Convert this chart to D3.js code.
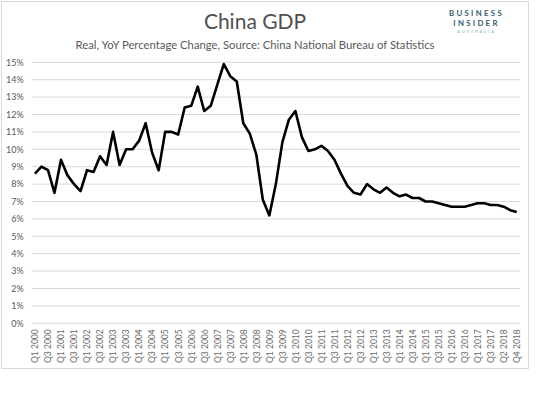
<!DOCTYPE html>
<html>
<head>
<meta charset="utf-8">
<script src="https://cdn.jsdelivr.net/npm/d3@7"></script>
<style>
  body { margin: 0; background: #fff; }
  text { font-family: Lato, "Open Sans", sans-serif; }
</style>
</head>
<body>
<div id="chart"></div>
<script>
// quarters shown on the category axis (Q4 2017 is absent from the source series)
var quarters = [
  "Q1 2000","Q2 2000","Q3 2000","Q4 2000","Q1 2001","Q2 2001","Q3 2001","Q4 2001",
  "Q1 2002","Q2 2002","Q3 2002","Q4 2002","Q1 2003","Q2 2003","Q3 2003","Q4 2003",
  "Q1 2004","Q2 2004","Q3 2004","Q4 2004","Q1 2005","Q2 2005","Q3 2005","Q4 2005",
  "Q1 2006","Q2 2006","Q3 2006","Q4 2006","Q1 2007","Q2 2007","Q3 2007","Q4 2007",
  "Q1 2008","Q2 2008","Q3 2008","Q4 2008","Q1 2009","Q2 2009","Q3 2009","Q4 2009",
  "Q1 2010","Q2 2010","Q3 2010","Q4 2010","Q1 2011","Q2 2011","Q3 2011","Q4 2011",
  "Q1 2012","Q2 2012","Q3 2012","Q4 2012","Q1 2013","Q2 2013","Q3 2013","Q4 2013",
  "Q1 2014","Q2 2014","Q3 2014","Q4 2014","Q1 2015","Q2 2015","Q3 2015","Q4 2015",
  "Q1 2016","Q2 2016","Q3 2016","Q4 2016","Q1 2017","Q2 2017","Q3 2017",
  "Q1 2018","Q2 2018","Q3 2018","Q4 2018"
];

// real GDP, YoY % change
var gdp = [
  8.6, 9.0, 8.8, 7.5, 9.4, 8.5, 8.0, 7.6,
  8.8, 8.7, 9.6, 9.1, 11.0, 9.1, 10.0, 10.0,
  10.5, 11.5, 9.8, 8.8, 11.0, 11.0, 10.85, 12.4,
  12.5, 13.6, 12.2, 12.5, 13.7, 14.9, 14.2, 13.9,
  11.5, 10.9, 9.7, 7.1, 6.2, 8.0, 10.4, 11.7,
  12.2, 10.7, 9.9, 10.0, 10.2, 9.9, 9.4, 8.6,
  7.9, 7.5, 7.4, 8.0, 7.7, 7.5, 7.8, 7.5,
  7.3, 7.4, 7.2, 7.2, 7.0, 7.0, 6.9, 6.8,
  6.7, 6.7, 6.7, 6.8, 6.9, 6.9, 6.8,
  6.8, 6.7, 6.5, 6.4
];

var yTicks = [0,1,2,3,4,5,6,7,8,9,10,11,12,13,14,15];

var title = "China GDP";
var subtitle = "Real, YoY Percentage Change, Source: China National Bureau of Statistics";

var w = 540, h = 405;
var plotLeft = 31.7, plotRight = 520, plotTop = 62.3, plotBottom = 323.3;

var svg = d3.select("#chart")
  .append("svg")
  .attr("width", w)
  .attr("height", h)
  .style("background-color", "#fff");

// chart frame
svg.append("rect")
  .attr("x", 1.5).attr("y", 1.5)
  .attr("width", 527).attr("height", 367)
  .style("fill", "#fff")
  .style("stroke", "#d9d9d9");

var x = d3.scalePoint()
  .domain(quarters)
  .range([plotLeft, plotRight])
  .padding(0.5);

var y = d3.scaleLinear()
  .domain([0, 15])
  .range([plotBottom, plotTop]);

// gridlines
svg.append("g")
  .selectAll("line")
  .data(yTicks)
  .enter()
  .append("line")
  .attr("x1", plotLeft).attr("x2", plotRight)
  .attr("y1", d => y(d)).attr("y2", d => y(d))
  .style("stroke", "#d9d9d9")
  .style("stroke-width", 1);

// y axis labels
var yAxis = svg.append("g")
  .attr("transform", "translate(" + (plotLeft - 8) + ",0)")
  .call(d3.axisLeft(y).tickValues(yTicks).tickFormat(d => d + "%").tickSize(0).tickPadding(0));
yAxis.select(".domain").remove();
yAxis.selectAll("text")
  .style("font-size", "9px")
  .style("fill", "#595959");

// x axis labels, every other category
var xAxis = svg.append("g")
  .attr("transform", "translate(0," + plotBottom + ")")
  .call(d3.axisBottom(x)
    .tickValues(quarters.filter((d, i) => i % 2 == 0))
    .tickSize(0));
xAxis.select(".domain").remove();
xAxis.selectAll("text")
  .attr("transform", "rotate(-90)")
  .attr("x", -6)
  .attr("y", 0)
  .attr("dy", "0.33em")
  .style("text-anchor", "end")
  .style("font-size", "8.5px")
  .style("fill", "#6b6b6b");

// the line
var line = d3.line()
  .x((d, i) => x(quarters[i]))
  .y(d => y(d));

svg.append("path")
  .datum(gdp)
  .attr("d", line)
  .style("fill", "none")
  .style("stroke", "#000")
  .style("stroke-width", 2.6)
  .style("stroke-linejoin", "round");

// titles
svg.append("text")
  .attr("x", 255).attr("y", 29)
  .attr("text-anchor", "middle")
  .style("font-size", "21px")
  .style("fill", "#505050")
  .text(title);

svg.append("text")
  .attr("x", 255).attr("y", 49)
  .attr("text-anchor", "middle")
  .style("font-size", "11.3px")
  .style("fill", "#595959")
  .text(subtitle);

// logo
var logo = svg.append("g").attr("text-anchor", "middle");
logo.append("text")
  .attr("x", 476.5).attr("y", 15.5)
  .style("font-size", "7.8px").style("font-weight", "bold")
  .style("letter-spacing", "2.3px")
  .style("fill", "#365e6b")
  .text("BUSINESS");
logo.append("text")
  .attr("x", 476.5).attr("y", 25.5)
  .style("font-size", "7.8px").style("font-weight", "bold")
  .style("letter-spacing", "2.3px")
  .style("fill", "#365e6b")
  .text("INSIDER");
logo.append("text")
  .attr("x", 476.5).attr("y", 32.5)
  .style("font-size", "4.3px")
  .style("letter-spacing", "1.8px")
  .style("fill", "#7fb3b8")
  .text("AUSTRALIA");
</script>
</body>
</html>
